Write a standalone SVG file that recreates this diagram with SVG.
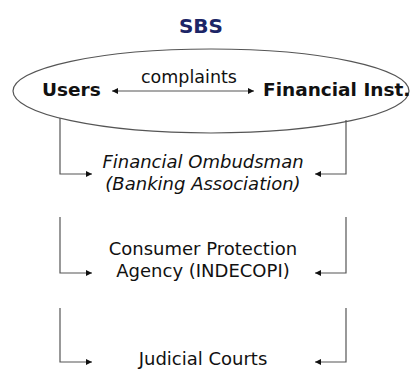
<svg xmlns="http://www.w3.org/2000/svg" width="410" height="369" viewBox="0 0 410 369">
<defs>
<style>
.t{font-family:"DejaVu Sans","Verdana",sans-serif;fill:#111;font-size:18px}
.b{font-weight:bold}
.i{font-style:italic}
.ln{fill:none;stroke:#555;stroke-width:1.2}
</style>
<marker id="ah" viewBox="0 0 10 10" refX="10" refY="5" markerWidth="7" markerHeight="6" markerUnits="userSpaceOnUse" orient="auto-start-reverse">
<path d="M0,0 L10,5 L0,10 z" fill="#111"/>
</marker>
</defs>
<rect width="410" height="369" fill="#fff"/>
<g id="sbs">
<text class="t b" x="201" y="33" text-anchor="middle" style="fill:#1c2566;font-size:20px">SBS</text>
<ellipse cx="211" cy="91" rx="198" ry="42" class="ln"/>
</g>
<g id="users"><text class="t b" x="42" y="96" style="font-size:18.5px">Users</text></g>
<g id="fininst"><text class="t b" x="263" y="96" style="font-size:18.5px">Financial Inst.</text></g>
<g id="ombudsman">
<text class="t i" x="203" y="168" text-anchor="middle">Financial Ombudsman</text>
<text class="t i" x="203" y="190" text-anchor="middle">(Banking Association)</text>
</g>
<g id="indecopi">
<text class="t" x="203" y="255" text-anchor="middle">Consumer Protection</text>
<text class="t" x="203" y="277" text-anchor="middle">Agency (INDECOPI)</text>
</g>
<g id="courts"><text class="t" x="203" y="365" text-anchor="middle">Judicial Courts</text></g>
<g id="connectors">
<line x1="112" y1="91" x2="254" y2="91" class="ln" marker-start="url(#ah)" marker-end="url(#ah)"/>
<text class="t" x="189" y="83" text-anchor="middle" style="font-size:17.5px">complaints</text>
<path d="M60,118 V174 H92" class="ln" marker-end="url(#ah)"/>
<path d="M346,120 V174 H315" class="ln" marker-end="url(#ah)"/>
<path d="M60,217 V273 H92" class="ln" marker-end="url(#ah)"/>
<path d="M346,217 V273 H315" class="ln" marker-end="url(#ah)"/>
<path d="M60,308 V362 H92" class="ln" marker-end="url(#ah)"/>
<path d="M346,308 V362 H315" class="ln" marker-end="url(#ah)"/>
</g>
</svg>
